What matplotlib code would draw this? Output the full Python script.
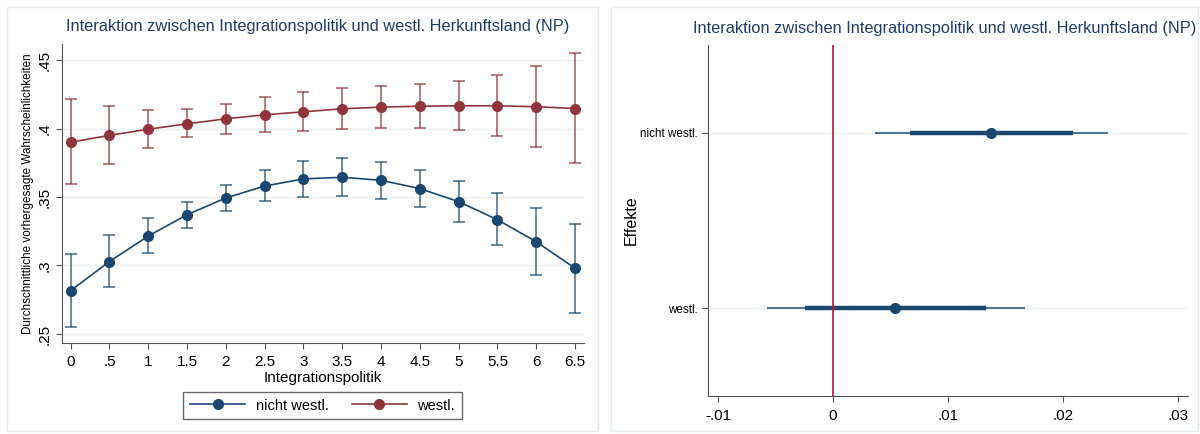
import matplotlib.pyplot as plt
from matplotlib.patches import Rectangle

plt.rcParams['font.family'] = ['Liberation Sans', 'DejaVu Sans']

# Vorhergesagte Wahrscheinlichkeiten nach Integrationspolitik
politik = [0, 0.5, 1, 1.5, 2, 2.5, 3, 3.5, 4, 4.5, 5, 5.5, 6, 6.5]
politik_labels = ["0", ".5", "1", "1.5", "2", "2.5", "3", "3.5", "4", "4.5", "5", "5.5", "6", "6.5"]

nicht_westl = [.2817, .3029, .3215, .3371, .3493, .3580, .3632, .3644, .3622, .3561, .3466, .3334, .3173, .2980]
nicht_westl_lo = [.2549, .2841, .3088, .3273, .3398, .3468, .3502, .3510, .3488, .3427, .3317, .3151, .2929, .2656]
nicht_westl_hi = [.3085, .3220, .3344, .3466, .3590, .3695, .3761, .3783, .3759, .3698, .3617, .3527, .3420, .3305]

westl = [.3900, .3950, .3995, .4034, .4071, .4100, .4122, .4144, .4156, .4163, .4166, .4166, .4159, .4146]
westl_lo = [.3593, .3741, .3859, .3939, .3963, .3973, .3980, .3993, .4005, .4007, .3990, .3944, .3863, .3749]
westl_hi = [.4212, .4161, .4137, .4141, .4178, .4227, .4268, .4295, .4310, .4324, .4349, .4393, .4456, .4549]

# Marginale Effekte (Koeffizientenplot)
effekte = ["westl.", "nicht westl."]
effekt_wert = [.00543, .01377]
effekt_ci95 = [(-.00577, .01667), (.00367, .02393)]
effekt_ci84 = [(-.0024, .01327), (.00673, .0209)]

navy = "#1a476f"
maroon = "#90353b"
grid_col = "#eaf2f3"
title_col = "#1e3d6b"
spine_col = "#555555"
titel = "Interaktion zwischen Integrationspolitik und westl. Herkunftsland (NP)"

W, H = 1200, 434
fig = plt.figure(figsize=(W / 100, H / 100), dpi=100)


def px_box(x0, y0, x1, y1):
    # Pixelkoordinaten (oben links) -> Figurenbruchteile
    return [x0 / W, 1 - y1 / H, (x1 - x0) / W, (y1 - y0) / H]


# Rahmen der beiden Grafiken
for x0, x1 in [(7, 598), (611, 1198)]:
    b = px_box(x0, 7, x1, 431)
    fig.patches.append(Rectangle((b[0], b[1]), b[2], b[3], transform=fig.transFigure,
                                 fill=False, edgecolor="#e3eded", linewidth=1.0))

# linke Grafik
ax = fig.add_axes(px_box(61.7, 44, 583.6, 343))
for y, lo, hi, col, lab in [(nicht_westl, nicht_westl_lo, nicht_westl_hi, navy, "nicht westl."),
                            (westl, westl_lo, westl_hi, maroon, "westl.")]:
    err = [[a - b for a, b in zip(y, lo)], [b - a for a, b in zip(y, hi)]]
    ax.errorbar(politik, y, yerr=err, fmt="none", ecolor=col, alpha=0.7, elinewidth=1.3,
                capsize=4, capthick=1.3)
    ax.plot(politik, y, color=col, marker="o", markersize=7, linewidth=1.2, label=lab)

ax.set_xlim(-0.116, 6.61)
ax.set_ylim(.2434, .4617)
ax.set_xticks(politik)
ax.set_xticklabels(politik_labels, fontsize=11)
ax.set_yticks([.25, .3, .35, .4, .45])
ax.set_yticklabels([".25", ".3", ".35", ".4", ".45"], fontsize=11, rotation=90, va="center")
ax.grid(axis="y", color=grid_col, linewidth=1.0)
ax.set_axisbelow(True)
for s in ["top", "right"]:
    ax.spines[s].set_visible(False)
for s in ["left", "bottom"]:
    ax.spines[s].set_color(spine_col)
ax.tick_params(colors=spine_col, labelcolor="black", length=4)
ax.tick_params(axis="x", pad=5)
ax.tick_params(axis="y", pad=3)
ax.set_xlabel("Integrationspolitik", fontsize=11, labelpad=1)
ax.set_ylabel("Durchschnittliche vorhergesagte Wahrscheinlichkeiten", fontsize=8.4, labelpad=3)
fig.text(318 / W, 1 - 26 / H, titel, ha="center", va="center", fontsize=11.8, color=title_col)
leg = ax.legend(loc="center", bbox_to_anchor=(322.5 / W, 1 - 405.5 / H), bbox_transform=fig.transFigure,
                ncol=2, fontsize=10.5, frameon=True, fancybox=False, handlelength=3.8,
                handletextpad=0.7, columnspacing=1.6, borderpad=0.45)
leg.get_frame().set_edgecolor("#444444")
leg.get_frame().set_linewidth(1.0)

# rechte Grafik
ax2 = fig.add_axes(px_box(708, 45, 1188, 396))
pos = list(range(1, len(effekte) + 1))
for p, w, c95, c84 in zip(pos, effekt_wert, effekt_ci95, effekt_ci84):
    ax2.plot(c95, [p, p], color=navy, alpha=0.75, linewidth=1.5, solid_capstyle="butt")
    ax2.plot(c84, [p, p], color=navy, linewidth=3.2, solid_capstyle="butt")
    ax2.plot(w, p, "o", color=navy, markersize=7)
ax2.axvline(0, color="#c0123c", linewidth=1.2)
ax2.set_ylim(0.5, 2.5)
ax2.set_xlim(-.01087, .03087)
ax2.set_yticks(pos)
ax2.set_yticklabels(effekte, fontsize=8.4)
ax2.set_xticks([-.01, 0, .01, .02, .03])
ax2.set_xticklabels(["-.01", "0", ".01", ".02", ".03"], fontsize=11)
ax2.grid(axis="y", color=grid_col, linewidth=1.0)
ax2.set_axisbelow(True)
for s in ["top", "right"]:
    ax2.spines[s].set_visible(False)
for s in ["left", "bottom"]:
    ax2.spines[s].set_color(spine_col)
ax2.tick_params(colors=spine_col, labelcolor="black", length=4)
ax2.tick_params(axis="x", pad=5)
ax2.set_ylabel("Effekte", fontsize=11.5, labelpad=1)
fig.text(945 / W, 1 - 29 / H, titel, ha="center", va="center", fontsize=11.8, color=title_col)

fig.savefig("out.png", dpi=100)
